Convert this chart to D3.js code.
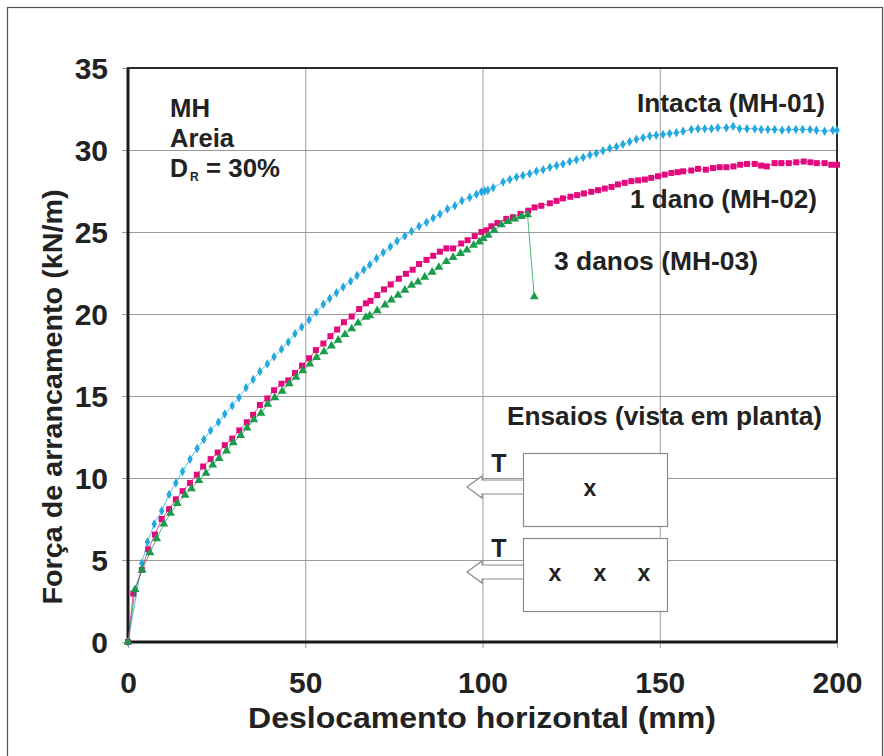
<!DOCTYPE html>
<html>
<head>
<meta charset="utf-8">
<script src="https://cdn.jsdelivr.net/npm/d3@7"></script>
<style>
  body { margin: 0; background: #fff; }
  svg text { font-family: "Liberation Sans", Arial, Helvetica, sans-serif; font-weight: bold; fill: #222; }
</style>
</head>
<body>
<div class="chart-container"></div>
<script>
// curves: [deslocamento (mm), força (kN/m)]
const intacta = [[0,0],[3.9,4.8],[5.5,6.1],[7.4,7.2],[9.5,8.0],[11.6,9.0],[13.5,9.7],[15.4,10.4],[17.5,11.15],[19.5,11.8],
  [21.4,12.35],[23.3,12.9],[25.5,13.4],[27.3,13.9],[29.4,14.4],[31.3,14.9],[33.3,15.5],[35.3,16.0],[37.2,16.5],[39.3,16.95],
  [41.2,17.4],[43.3,17.85],[45.2,18.3],[47.1,18.8],[49.0,19.2],[51.1,19.65],[53.1,20.1],[55.1,20.6],[56.9,20.95],[58.8,21.3],
  [60.7,21.65],[62.8,22.0],[64.6,22.35],[66.5,22.7],[68.2,23.0],[70.1,23.4],[72.0,23.75],[74.0,24.1],[75.9,24.45],[78.1,24.75],
  [80.0,25.05],[82.1,25.35],[84.2,25.6],[86.1,25.85],[88.0,26.1],[90.1,26.4],[92.2,26.6],[94.2,26.9],[96.4,27.1],[98.3,27.3],
  [99.7,27.45],[100.6,27.5],[101.5,27.55],[103.0,27.7],[105.8,28.05],[107.7,28.2],[109.6,28.35],[111.4,28.45],[113.3,28.55],[115.2,28.7],
  [117.1,28.8],[119.0,28.95],[120.9,29.05],[122.7,29.15],[124.6,29.3],[126.5,29.4],[128.4,29.55],[130.3,29.7],[132.1,29.8],[134.0,29.95],
  [135.9,30.1],[137.8,30.2],[139.6,30.35],[141.5,30.5],[143.4,30.65],[145.3,30.75],[147.2,30.85],[149.0,30.9],[150.9,30.95],[152.8,31.0],
  [154.7,31.05],[156.6,31.15],[158.9,31.25],[160.8,31.3],[162.7,31.3],[164.6,31.3],[166.4,31.35],[168.8,31.35],[170.7,31.45],[172.5,31.3],
  [174.6,31.3],[176.8,31.3],[178.6,31.25],[180.5,31.25],[182.4,31.25],[184.5,31.2],[186.4,31.25],[188.4,31.25],[190.3,31.25],[192.4,31.25],
  [194.2,31.2],[196.5,31.15],[198.8,31.2],[200,31.2]];

const umDano = [[0,0],[1.5,2.95],[3.9,4.4],[5.7,5.65],[7.6,6.55],[9.5,7.5],[11.6,8.1],[13.5,8.7],[15.4,9.2],[17.5,9.7],
  [19.4,10.2],[21.2,10.7],[23.3,11.15],[25.3,11.55],[27.3,12.0],[29.4,12.4],[31.4,12.9],[33.5,13.4],[35.3,13.85],[37.2,14.45],
  [39.3,14.85],[41.2,15.35],[43.3,15.75],[45.2,15.95],[47.1,16.4],[49.1,16.85],[51.1,17.3],[53.0,17.8],[55.1,18.2],[57.1,18.65],
  [59.0,19.05],[60.9,19.5],[63.1,19.85],[65.2,20.3],[67.1,20.65],[68.4,20.8],[70.3,21.15],[72.2,21.5],[74.1,21.8],[76.4,22.15],
  [78.4,22.45],[80.3,22.7],[82.1,23.05],[84.2,23.3],[86.1,23.55],[88.0,23.8],[89.8,24.0],[91.7,24.0],[94.0,24.3],[95.8,24.5],
  [97.8,24.75],[99.7,25.0],[101.1,25.1],[102.5,25.35],[104.2,25.55],[106.7,25.8],[108.6,25.9],[110.7,26.1],[112.9,26.3],[114.7,26.5],
  [116.6,26.6],[119.0,26.75],[120.9,26.9],[122.7,27.05],[124.8,27.15],[126.7,27.25],[128.6,27.35],[130.7,27.45],[132.6,27.55],[134.5,27.65],
  [136.4,27.75],[138.2,27.9],[140.1,28.0],[142.0,28.1],[143.9,28.15],[145.8,28.2],[147.6,28.3],[149.5,28.4],[151.4,28.5],[153.3,28.6],
  [155.1,28.65],[156.6,28.7],[158.9,28.75],[160.8,28.85],[163.0,28.8],[165.0,28.9],[166.9,28.95],[168.8,28.95],[170.8,29.0],[172.7,29.1],
  [174.6,29.15],[176.8,29.15],[178.6,29.05],[180.2,29.0],[182.4,29.2],[184.3,29.2],[186.4,29.2],[188.5,29.25],[190.6,29.3],[192.5,29.25],
  [194.3,29.2],[196.5,29.2],[198.4,29.1],[200,29.1]];

const tresDanos = [[0,0],[2.0,3.2],[4.0,4.4],[6.2,5.45],[8.1,6.3],[10.1,7.2],[12.0,7.85],[13.9,8.45],[16.1,8.95],[17.9,9.35],
  [20.0,9.85],[22.0,10.3],[23.9,10.8],[25.7,11.2],[27.8,11.65],[29.7,12.15],[31.8,12.6],[33.6,13.05],[35.5,13.55],[37.5,13.95],
  [39.4,14.5],[41.4,14.9],[43.5,15.3],[45.5,15.75],[47.4,16.15],[49.3,16.55],[51.3,16.95],[53.2,17.35],[55.3,17.7],[57.4,18.05],
  [59.3,18.4],[61.2,18.75],[63.1,19.1],[64.9,19.45],[67.1,19.8],[68.2,19.9],[70.3,20.2],[72.5,20.55],[74.3,20.85],[76.2,21.15],
  [78.1,21.45],[80.0,21.75],[81.8,21.95],[83.7,22.25],[85.8,22.55],[87.7,22.85],[89.8,23.2],[91.7,23.45],[93.8,23.7],[95.6,23.9],
  [97.5,24.2],[99.1,24.4],[100.2,24.6],[101.6,24.8],[103.3,25.1],[105.3,25.45],[107.2,25.65],[109.1,25.8],[111.0,25.95],[112.7,26.05],
  [114.6,21.05]];

const xTicks = [0, 50, 100, 150, 200];
const yTicks = [0, 5, 10, 15, 20, 25, 30, 35];

// layout
const margin = {top: 68, left: 128};
const width = 709;
const height = 574;

const svg = d3.select('.chart-container')
  .append('svg')
  .attr('width', 884)
  .attr('height', 756);

// outer frame of the figure
svg.append('rect')
  .attr('x', 7.5).attr('y', 7.5)
  .attr('width', 875).attr('height', 760)
  .attr('fill', 'none')
  .attr('stroke', '#555')
  .attr('stroke-width', 1.2);

const g = svg.append('g')
  .attr('transform', `translate(${margin.left}, ${margin.top})`);

const x = d3.scaleLinear().domain([0, 200]).range([0, width]);
const y = d3.scaleLinear().domain([0, 35]).range([height, 0]);

// axes with grid lines
const xAxis = g.append('g')
  .attr('class', 'x axis')
  .attr('transform', `translate(0, ${height})`)
  .call(d3.axisBottom(x).tickValues(xTicks).tickSizeInner(-height).tickSizeOuter(0).tickPadding(30));

const yAxis = g.append('g')
  .attr('class', 'y axis')
  .call(d3.axisLeft(y).tickValues(yTicks).tickSizeInner(-width).tickSizeOuter(0).tickPadding(20));

g.selectAll('.axis .domain').remove();
g.selectAll('.axis line').attr('stroke', '#9a9a9a').attr('stroke-width', 1);
yAxis.selectAll('line').attr('x1', -6);
xAxis.selectAll('line').attr('y1', 6);
g.selectAll('.axis text')
  .attr('fill', '#1e1e1e')
  .style('font-size', '30px');
yAxis.selectAll('text').attr('dy', '0.36em');

// plot frame
g.append('rect')
  .attr('width', width).attr('height', height)
  .attr('fill', 'none')
  .attr('stroke', '#2a2a2a')
  .attr('stroke-width', 2);
g.append('path')
  .attr('d', `M0,0V${height}H${width}`)
  .attr('fill', 'none')
  .attr('stroke', '#1a1a1a')
  .attr('stroke-width', 3);

// series
const series = [
  {data: intacta, color: '#23a8e0', symbol: d3.symbolDiamond, size: 26},
  {data: umDano, color: '#e3097d', symbol: d3.symbolSquare, size: 36},
  {data: tresDanos, color: '#1a9c4c', symbol: d3.symbolTriangle, size: 34}
];

const line = d3.line().x(d => x(d[0])).y(d => y(d[1]));

series.forEach(s => {
  g.append('path')
    .datum(s.data)
    .attr('d', line)
    .attr('fill', 'none')
    .attr('stroke', s.color)
    .attr('stroke-opacity', 0.75)
    .attr('stroke-width', 1);

  g.selectAll(null)
    .data(s.data)
    .join('path')
    .attr('transform', d => `translate(${x(d[0])}, ${y(d[1])})`)
    .attr('d', d3.symbol().type(s.symbol).size(s.size))
    .attr('fill', s.color);
});

// text helper; textLength keeps the wide look of the original lettering
function label(text, px, py, size, anchor, len) {
  const t = svg.append('text')
    .attr('x', px).attr('y', py)
    .attr('text-anchor', anchor || 'start')
    .style('font-size', size + 'px')
    .text(text);
  if (len) t.attr('textLength', len).attr('lengthAdjust', 'spacingAndGlyphs');
  return t;
}

// axis titles
label('Deslocamento horizontal (mm)', 482, 728, 29, 'middle', 468);
label('Força de arrancamento (kN/m)', 0, 0, 28, 'middle', 415)
  .attr('transform', 'translate(62, 397) rotate(-90)');

// annotations
label('MH', 170, 117, 25, 'start', 40);
label('Areia', 170, 147, 25, 'start', 64);
label('D', 170, 177, 25, 'start', 18);
label('R', 190, 181, 12, 'start');
label('= 30%', 206, 177, 25, 'start', 74);

label('Intacta (MH-01)', 825, 112, 25, 'end', 188);
label('1 dano (MH-02)', 817, 208, 25, 'end', 187);
label('3 danos (MH-03)', 758, 270, 25, 'end', 204);
label('Ensaios (vista em planta)', 822, 425, 25, 'end', 315);

// plan-view sketch of the tests
const boxes = [{top: 453, marks: [590]}, {top: 538, marks: [555, 600, 644]}];
boxes.forEach(b => {
  svg.append('rect')
    .attr('x', 523.5).attr('y', b.top + 0.5)
    .attr('width', 144).attr('height', 73)
    .attr('fill', '#fff')
    .attr('stroke', '#8a8a8a')
    .attr('stroke-width', 1.2);
  const m = b.top + 34;
  svg.append('path')
    .attr('d', `M523,${m - 7}H482V${m - 11}L467,${m}L482,${m + 11}V${m + 7}H523`)
    .attr('fill', '#fff')
    .attr('stroke', '#8a8a8a')
    .attr('stroke-width', 1.2);
  label('T', 499, b.top + 19, 25, 'middle');
  b.marks.forEach(mx => label('x', mx, b.top + 43, 23, 'middle'));
});
</script>
</body>
</html>
